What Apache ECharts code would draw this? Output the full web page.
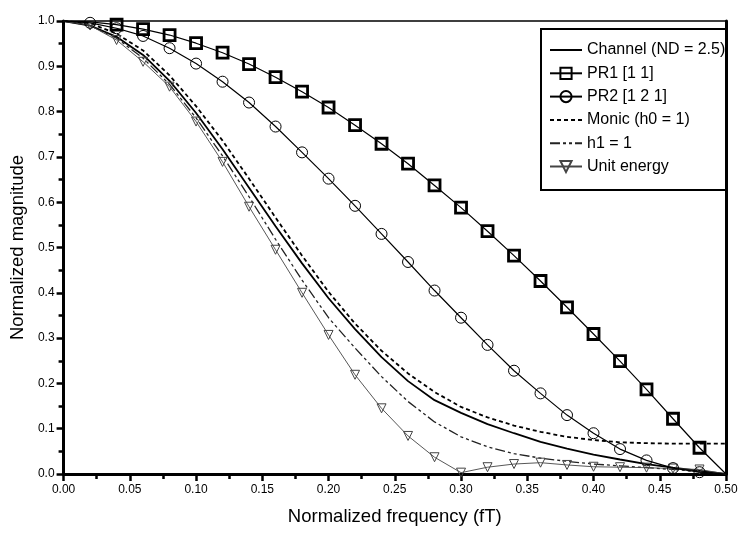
<!DOCTYPE html>
<html>
<head>
<meta charset="utf-8">
<script src="https://cdn.jsdelivr.net/npm/echarts@6/dist/echarts.min.js"></script>
<style>
  html, body { margin: 0; padding: 0; background: #fff; }
  #chart { width: 744px; height: 539px; }
</style>
</head>
<body>
<div id="chart"></div>
<script>
// Normalized frequency (fT) sample points
const freq = [0.00, 0.02, 0.04, 0.06, 0.08, 0.10, 0.12, 0.14, 0.16, 0.18, 0.20, 0.22, 0.24,
              0.26, 0.28, 0.30, 0.32, 0.34, 0.36, 0.38, 0.40, 0.42, 0.44, 0.46, 0.48, 0.50];

// Normalized magnitude responses
const channel = [1.000, 0.990, 0.965, 0.925, 0.868, 0.797, 0.717, 0.632, 0.547, 0.465, 0.388, 0.320, 0.258,
                 0.205, 0.163, 0.135, 0.110, 0.090, 0.071, 0.056, 0.043, 0.032, 0.022, 0.014, 0.007, 0.000];
const pr1 = [1.000, 0.998, 0.992, 0.982, 0.969, 0.951, 0.930, 0.905, 0.876, 0.844, 0.809, 0.770, 0.729,
             0.685, 0.637, 0.588, 0.536, 0.482, 0.426, 0.368, 0.309, 0.249, 0.187, 0.122, 0.058, 0.000];
const pr2 = [1.000, 0.996, 0.984, 0.967, 0.940, 0.906, 0.866, 0.820, 0.767, 0.710, 0.652, 0.592, 0.530,
             0.468, 0.405, 0.345, 0.285, 0.228, 0.178, 0.130, 0.090, 0.055, 0.030, 0.013, 0.004, 0.000];
const monic = [1.000, 0.995, 0.972, 0.935, 0.880, 0.812, 0.736, 0.652, 0.566, 0.482, 0.402, 0.332, 0.272,
               0.222, 0.181, 0.148, 0.125, 0.107, 0.093, 0.082, 0.075, 0.070, 0.068, 0.067, 0.067, 0.067];
const h1one = [1.000, 0.990, 0.962, 0.918, 0.860, 0.786, 0.702, 0.612, 0.518, 0.428, 0.345, 0.278, 0.215,
               0.160, 0.115, 0.082, 0.060, 0.045, 0.035, 0.028, 0.022, 0.018, 0.014, 0.010, 0.005, 0.000];
const unitEnergy = [1.000, 0.990, 0.958, 0.910, 0.855, 0.778, 0.689, 0.590, 0.495, 0.400, 0.307, 0.219, 0.145,
                    0.084, 0.037, 0.003, 0.015, 0.022, 0.025, 0.020, 0.016, 0.015, 0.014, 0.012, 0.010, 0.000];

// Axis tick labels
const xTicks = ['0.00', '0.05', '0.10', '0.15', '0.20', '0.25', '0.30', '0.35', '0.40', '0.45', '0.50'];
const yTicks = ['0.0', '0.1', '0.2', '0.3', '0.4', '0.5', '0.6', '0.7', '0.8', '0.9', '1.0'];

const seriesNames = ['Channel (ND = 2.5)', 'PR1 [1 1]', 'PR2 [1 2 1]', 'Monic (h0 = 1)', 'h1 = 1', 'Unit energy'];
const plainLines = [true, false, false, true, true, false];

// Pair frequencies with values; markers are shown only from index `first` up to the last-but-one point
function pairs(vals, first) {
  return freq.map((f, i) => {
    const item = { value: [f, vals[i]] };
    if (first >= 0 && (i < first || i === freq.length - 1)) item.symbol = 'none';
    return item;
  });
}

const font = 'Liberation Sans, Arial, sans-serif';
const hollow = 'rgba(255,255,255,0)';
const chart = echarts.init(document.getElementById('chart'), null, { renderer: 'canvas' });

chart.setOption({
  animation: false,
  backgroundColor: '#fff',
  grid: {
    left: 62, right: 18, top: 21, bottom: 65,
    show: true, borderColor: '#000', borderWidth: 1.5, backgroundColor: 'transparent'
  },
  legend: {
    orient: 'vertical',
    left: 544, top: 37,
    itemWidth: 32, itemHeight: 14, itemGap: 7.3,
    textStyle: { fontFamily: font, fontSize: 16, color: '#000' },
    data: seriesNames.map((n, i) => plainLines[i] ? { name: n, itemStyle: { opacity: 0 } } : { name: n })
  },
  graphic: [{
    type: 'rect',
    shape: { x: 541, y: 29, width: 186, height: 161 },
    style: { fill: 'none', stroke: '#000', lineWidth: 2 },
    z: 100
  }],
  xAxis: {
    type: 'value', min: 0, max: 0.5, interval: 0.05,
    name: 'Normalized frequency (fT)', nameLocation: 'middle', nameGap: 33,
    nameTextStyle: { fontFamily: font, fontSize: 18.5, color: '#000' },
    axisLine: { lineStyle: { color: '#000', width: 3 } },
    axisTick: { inside: false, length: 7, lineStyle: { width: 2.5, color: '#000' } },
    minorTick: { show: true, splitNumber: 2, length: 5, lineStyle: { width: 2.5, color: '#000' } },
    axisLabel: {
      fontFamily: font, fontSize: 12, color: '#000', margin: 10,
      formatter: v => xTicks[Math.round(v / 0.05)]
    },
    splitLine: { show: false }
  },
  yAxis: [{
    type: 'value', min: 0, max: 1, interval: 0.1,
    name: 'Normalized magnitude', nameLocation: 'middle', nameGap: 36,
    nameTextStyle: { fontFamily: font, fontSize: 18.5, color: '#000' },
    axisLine: { show: true, lineStyle: { color: '#000', width: 3 } },
    axisTick: { show: true, inside: false, length: 7, lineStyle: { width: 2.5, color: '#000' } },
    minorTick: { show: true, splitNumber: 2, length: 5, lineStyle: { width: 2.5, color: '#000' } },
    axisLabel: {
      fontFamily: font, fontSize: 12, color: '#000', margin: 9,
      formatter: v => yTicks[Math.round(v * 10)]
    },
    splitLine: { show: false }
  }, {
    type: 'value', min: 0, max: 1, position: 'right',
    axisLine: { show: true, lineStyle: { color: '#000', width: 3 } },
    axisTick: { show: false }, axisLabel: { show: false }, splitLine: { show: false }
  }],
  series: [
    {
      name: seriesNames[0], type: 'line', data: pairs(channel, -1),
      symbol: 'none', lineStyle: { color: '#000', width: 1.8 }, itemStyle: { color: '#000' }, z: 3
    },
    {
      name: seriesNames[1], type: 'line', data: pairs(pr1, 2),
      symbol: 'rect', symbolSize: 11, showAllSymbol: true,
      lineStyle: { color: '#000', width: 1.2 },
      itemStyle: { color: hollow, borderColor: '#000', borderWidth: 2.8 }, z: 5
    },
    {
      name: seriesNames[2], type: 'line', data: pairs(pr2, 1),
      symbol: 'circle', symbolSize: 11, showAllSymbol: true,
      lineStyle: { color: '#000', width: 1.2 },
      itemStyle: { color: hollow, borderColor: '#000', borderWidth: 1 }, z: 4
    },
    {
      name: seriesNames[3], type: 'line', data: pairs(monic, -1),
      symbol: 'none', lineStyle: { color: '#000', width: 1.8, type: [4, 3] }, itemStyle: { color: '#000' }, z: 3
    },
    {
      name: seriesNames[4], type: 'line', data: pairs(h1one, -1),
      symbol: 'none', lineStyle: { color: '#222', width: 1.3, type: [10, 3, 3, 3, 3, 3] }, itemStyle: { color: '#222' }, z: 3
    },
    {
      name: seriesNames[5], type: 'line', data: pairs(unitEnergy, 1),
      symbol: 'triangle', symbolRotate: 180, symbolSize: 9, showAllSymbol: true,
      lineStyle: { color: '#444', width: 0.9 },
      itemStyle: { color: hollow, borderColor: '#444', borderWidth: 1 }, z: 3
    }
  ]
});
</script>
</body>
</html>
